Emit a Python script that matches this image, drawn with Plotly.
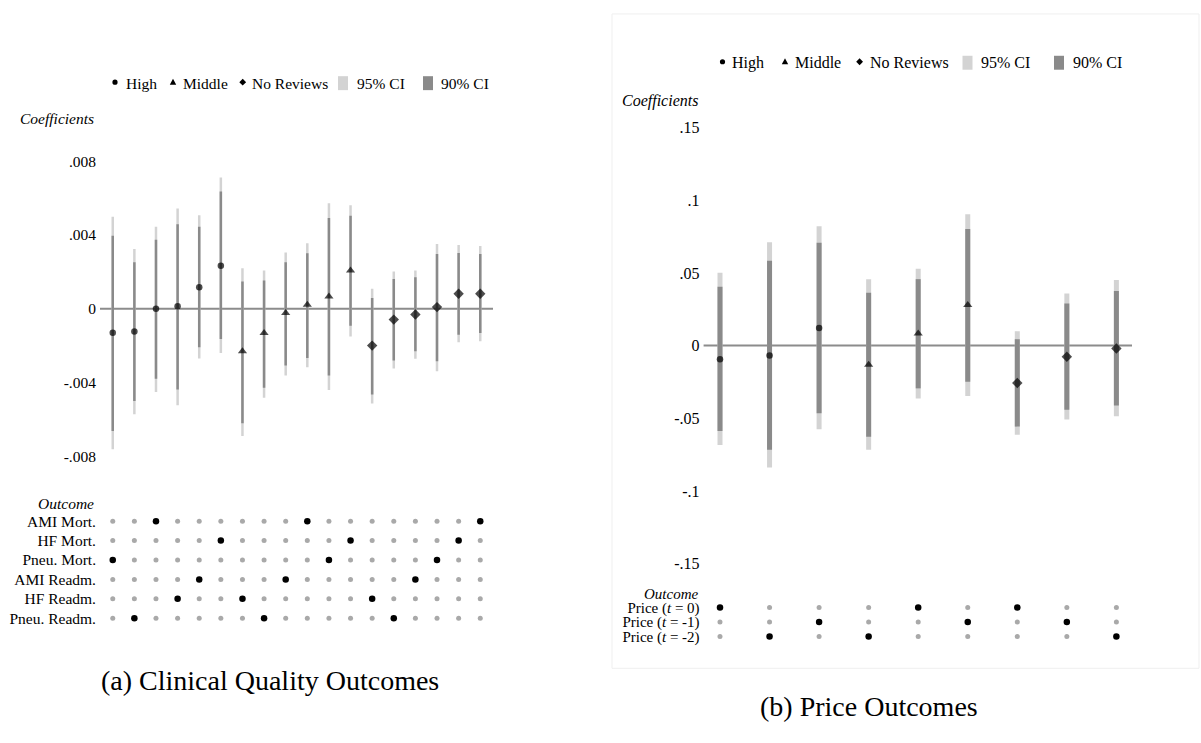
import plotly.graph_objects as go

W, H = 1201, 743
SERIF = "Liberation Serif"

# ---------------- Panel (a): clinical quality outcomes ----------------
clin_rows = ["AMI Mort.", "HF Mort.", "Pneu. Mort.", "AMI Readm.", "HF Readm.", "Pneu. Readm."]
clin_group = ["High"] * 6 + ["Middle"] * 6 + ["No Reviews"] * 6
clin_outcome = ["Pneu. Mort.", "Pneu. Readm.", "AMI Mort.", "HF Readm.", "AMI Readm.", "HF Mort.",
                "HF Readm.", "Pneu. Readm.", "AMI Readm.", "AMI Mort.", "Pneu. Mort.", "HF Mort.",
                "HF Readm.", "Pneu. Readm.", "AMI Readm.", "Pneu. Mort.", "HF Mort.", "AMI Mort."]
clin_coef = [-0.00130, -0.00123, 0.00000, 0.00013, 0.00117, 0.00234,
             -0.00231, -0.00132, -0.00023, 0.00022, 0.00067, 0.00207,
             -0.00200, -0.00059, -0.00031, 0.00009, 0.00081, 0.00081]
clin_lo95 = [-0.00762, -0.00573, -0.00452, -0.00524, -0.00270, -0.00240,
             -0.00690, -0.00483, -0.00362, -0.00317, -0.00441, -0.00150,
             -0.00514, -0.00324, -0.00272, -0.00339, -0.00182, -0.00177]
clin_hi95 = [0.00499, 0.00324, 0.00445, 0.00544, 0.00508, 0.00712,
             0.00220, 0.00207, 0.00305, 0.00355, 0.00573, 0.00562,
             0.00108, 0.00202, 0.00207, 0.00351, 0.00346, 0.00341]
clin_lo90 = [-0.00663, -0.00501, -0.00380, -0.00438, -0.00209, -0.00164,
             -0.00622, -0.00429, -0.00308, -0.00267, -0.00362, -0.00092,
             -0.00465, -0.00281, -0.00231, -0.00285, -0.00141, -0.00132]
clin_hi90 = [0.00396, 0.00252, 0.00375, 0.00459, 0.00445, 0.00636,
             0.00148, 0.00153, 0.00252, 0.00301, 0.00492, 0.00505,
             0.00059, 0.00162, 0.00171, 0.00297, 0.00303, 0.00297]
clin_ticks = [-0.008, -0.004, 0, 0.004, 0.008]
clin_ticktext = ["-.008", "-.004", "0", ".004", ".008"]

# ---------------- Panel (b): price outcomes ----------------
price_rows = ["Price (t = 0)", "Price (t = -1)", "Price (t = -2)"]
price_row_labels = ["Price (<i>t</i> = 0)", "Price (<i>t</i> = -1)", "Price (<i>t</i> = -2)"]
price_group = ["High"] * 3 + ["Middle"] * 3 + ["No Reviews"] * 3
price_outcome = ["Price (t = 0)", "Price (t = -2)", "Price (t = -1)",
                 "Price (t = -2)", "Price (t = 0)", "Price (t = -1)",
                 "Price (t = 0)", "Price (t = -1)", "Price (t = -2)"]
price_coef = [-0.0093, -0.0068, 0.0121, -0.0131, 0.0084, 0.0280, -0.0257, -0.0077, -0.0020]
price_lo95 = [-0.0683, -0.0839, -0.0575, -0.0717, -0.0364, -0.0346, -0.0613, -0.0509, -0.0486]
price_hi95 = [0.0501, 0.0710, 0.0821, 0.0457, 0.0529, 0.0903, 0.0099, 0.0359, 0.0451]
price_lo90 = [-0.0588, -0.0717, -0.0466, -0.0627, -0.0294, -0.0249, -0.0557, -0.0441, -0.0412]
price_hi90 = [0.0405, 0.0584, 0.0708, 0.0363, 0.0457, 0.0802, 0.0044, 0.0290, 0.0375]
price_ticks = [-0.15, -0.1, -0.05, 0, 0.05, 0.1, 0.15]
price_ticktext = ["-.15", "-.1", "-.05", "0", ".05", ".1", ".15"]

group_symbols = {"High": "circle", "Middle": "triangle-up", "No Reviews": "diamond"}
group_sizes = {"High": 6.5, "Middle": 8, "No Reviews": 8}

C95 = "#d3d3d3"
C90 = "#8a8a8a"
ZERO = "#8c8c8c"
DOT_OFF = "#a9a9a9"


def fx(p):
    return p / W


def fy(p):
    return 1 - p / H


fig = go.Figure()


def ci_segments(cols, lo, hi):
    xs, ys = [], []
    for c, a, b in zip(cols, lo, hi):
        xs += [c, c, None]
        ys += [a, b, None]
    return xs, ys


def add_panel(xa, ya, xb, yb, coef, lo95, hi95, lo90, hi90, groups,
              outcomes, rows, w95, w90):
    cols = list(range(1, len(coef) + 1))
    xs, ys = ci_segments(cols, lo95, hi95)
    fig.add_trace(go.Scatter(x=xs, y=ys, mode="lines", xaxis=xa, yaxis=ya,
                             line=dict(color=C95, width=w95), showlegend=False,
                             hoverinfo="skip"))
    xs, ys = ci_segments(cols, lo90, hi90)
    fig.add_trace(go.Scatter(x=xs, y=ys, mode="lines", xaxis=xa, yaxis=ya,
                             line=dict(color=C90, width=w90), showlegend=False,
                             hoverinfo="skip"))
    fig.add_trace(go.Scatter(
        x=cols, y=coef, mode="markers", xaxis=xa, yaxis=ya, showlegend=False,
        marker=dict(color="black",
                    symbol=[group_symbols[g] for g in groups],
                    size=[group_sizes[g] for g in groups],
                    line=dict(width=0))))
    # outcome indicator matrix below the coefficients
    on_x, on_y, off_x, off_y = [], [], [], []
    for c, out in zip(cols, outcomes):
        for r, name in enumerate(rows):
            if name == out:
                on_x.append(c)
                on_y.append(r)
            else:
                off_x.append(c)
                off_y.append(r)
    fig.add_trace(go.Scatter(x=off_x, y=off_y, mode="markers", xaxis=xb, yaxis=yb,
                             showlegend=False,
                             marker=dict(color=DOT_OFF, size=5, line=dict(width=0))))
    fig.add_trace(go.Scatter(x=on_x, y=on_y, mode="markers", xaxis=xb, yaxis=yb,
                             showlegend=False,
                             marker=dict(color="black", size=6.5, line=dict(width=0))))


add_panel("x", "y", "x2", "y2", clin_coef, clin_lo95, clin_hi95, clin_lo90, clin_hi90,
          clin_group, clin_outcome, clin_rows, 2.5, 2.5)
add_panel("x3", "y3", "x4", "y4", price_coef, price_lo95, price_hi95, price_lo90, price_hi90,
          price_group, price_outcome, price_rows, 5, 5)

hidden_x = dict(showgrid=False, zeroline=False, showline=False, showticklabels=False, ticks="")

fig.update_layout(
    width=W, height=H, margin=dict(l=0, r=0, t=0, b=0),
    paper_bgcolor="white", plot_bgcolor="white", showlegend=False,
    font=dict(family=SERIF, color="black", size=15.5),
    xaxis=dict(domain=[fx(100), fx(493)], range=[0.41, 18.59], **hidden_x),
    yaxis=dict(domain=[fy(475.5), fy(142.5)], range=[-0.009, 0.009],
               tickvals=clin_ticks, ticktext=clin_ticktext, showgrid=False,
               zeroline=False, showline=False, ticks="", ticklabelstandoff=3,
               tickfont=dict(family=SERIF, size=15.5, color="black")),
    xaxis2=dict(domain=[fx(100), fx(493)], range=[0.41, 18.59], anchor="y2", **hidden_x),
    yaxis2=dict(domain=[fy(629.4), fy(512.6)], range=[5.5, -0.5], anchor="x2",
                tickvals=list(range(len(clin_rows))), ticktext=clin_rows,
                showgrid=False, zeroline=False, showline=False, ticks="",
                ticklabelstandoff=3,
                tickfont=dict(family=SERIF, size=15.5, color="black")),
    xaxis3=dict(domain=[fx(703.6), fx(1132)], range=[0.669, 9.315], anchor="y3", **hidden_x),
    yaxis3=dict(domain=[fy(579.6), fy(112.4)], range=[-0.16, 0.16], anchor="x3",
                tickvals=price_ticks, ticktext=price_ticktext, showgrid=False,
                zeroline=False, showline=False, ticks="", ticklabelstandoff=3,
                tickfont=dict(family=SERIF, size=16, color="black")),
    xaxis4=dict(domain=[fx(703.6), fx(1132)], range=[0.669, 9.315], anchor="y4", **hidden_x),
    yaxis4=dict(domain=[fy(645.25), fy(601.75)], range=[2.5, -0.5], anchor="x4",
                tickvals=list(range(len(price_rows))), ticktext=price_row_labels,
                showgrid=False, zeroline=False, showline=False, ticks="",
                ticklabelstandoff=3,
                tickfont=dict(family=SERIF, size=15, color="black")),
)

shapes = []
annotations = []

# zero reference lines
for xr, yr in (("x domain", "y"), ("x3 domain", "y3")):
    shapes.append(dict(type="line", xref=xr, yref=yr, x0=0, x1=1, y0=0, y1=0,
                       line=dict(color=ZERO, width=2), layer="below"))

# faint frame around panel (b)
shapes.append(dict(type="rect", xref="paper", yref="paper",
                   x0=fx(612), x1=fx(1199), y0=fy(670), y1=fy(13),
                   line=dict(color="#efefef", width=1), layer="below"))


def text(x, y, s, size, anchor="left"):
    annotations.append(dict(x=fx(x), y=fy(y), xref="paper", yref="paper", text=s,
                            showarrow=False, xanchor=anchor, yanchor="middle",
                            font=dict(family=SERIF, size=size, color="black")))


def legend(y, xs, size):
    cx_dot, tx_high, cx_tri, tx_mid, cx_dia, tx_nr, sq95, tx95, sq90, tx90 = xs
    r = 2.6
    shapes.append(dict(type="circle", xref="paper", yref="paper",
                       x0=fx(cx_dot - r), x1=fx(cx_dot + r), y0=fy(y - 1 + r), y1=fy(y - 1 - r),
                       fillcolor="black", line=dict(width=0)))
    t = 3.2
    shapes.append(dict(type="path", xref="paper", yref="paper",
                       path=f"M {fx(cx_tri - t)} {fy(y + 1.5)} L {fx(cx_tri + t)} {fy(y + 1.5)} "
                            f"L {fx(cx_tri)} {fy(y - 4.5)} Z",
                       fillcolor="black", line=dict(width=0)))
    d = 3.4
    shapes.append(dict(type="path", xref="paper", yref="paper",
                       path=f"M {fx(cx_dia - d)} {fy(y - 1)} L {fx(cx_dia)} {fy(y - 1 - d)} "
                            f"L {fx(cx_dia + d)} {fy(y - 1)} L {fx(cx_dia)} {fy(y - 1 + d)} Z",
                       fillcolor="black", line=dict(width=0)))
    for x0, col in ((sq95, C95), (sq90, C90)):
        shapes.append(dict(type="rect", xref="paper", yref="paper",
                           x0=fx(x0), x1=fx(x0 + 10), y0=fy(y + 7), y1=fy(y - 7),
                           fillcolor=col, line=dict(width=0)))
    text(tx_high, y, "High", size)
    text(tx_mid, y, "Middle", size)
    text(tx_nr, y, "No Reviews", size)
    text(tx95, y, "95% CI", size)
    text(tx90, y, "90% CI", size)


legend(82.5, (115, 124, 173, 181, 242.7, 250, 338, 355, 423, 439), 15.5)
legend(62, (722.5, 730, 785, 793, 859.6, 868, 962.5, 979, 1054, 1071), 16)

text(96, 118, "<i>Coefficients</i>", 15.5, "right")
text(96, 505, "<i>Outcome</i>", 15.5, "right")
text(700, 100, "<i>Coefficients</i>", 16, "right")
text(700, 595, "<i>Outcome</i>", 15, "right")

# sub-figure captions
annotations.append(dict(x=fx(270), y=fy(682), xref="paper", yref="paper",
                        text="(a) Clinical Quality Outcomes", showarrow=False,
                        xanchor="center", yanchor="middle",
                        font=dict(family=SERIF, size=28, color="black")))
annotations.append(dict(x=fx(869), y=fy(708), xref="paper", yref="paper",
                        text="(b) Price Outcomes", showarrow=False,
                        xanchor="center", yanchor="middle",
                        font=dict(family=SERIF, size=28, color="black")))

fig.update_layout(shapes=shapes, annotations=annotations)
fig.write_html("out.html")
